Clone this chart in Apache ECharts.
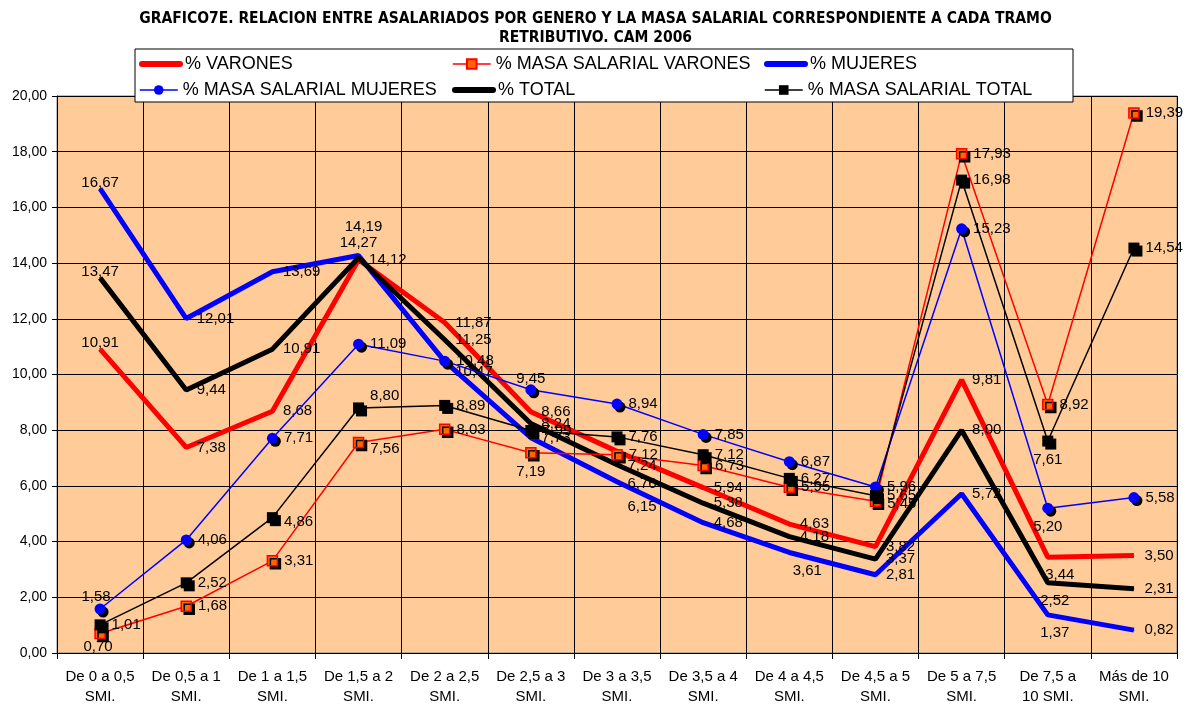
<!DOCTYPE html>
<html><head><meta charset="utf-8">
<script src="https://cdn.jsdelivr.net/npm/echarts@6/dist/echarts.min.js"></script>
<style>html,body{margin:0;padding:0;background:#fff}#c{width:1191px;height:707px}</style>
</head><body><div id="c"></div>
<script>
const categories = ['De 0 a 0,5\nSMI.','De 0,5 a 1\nSMI.','De 1 a 1,5\nSMI.','De 1,5 a 2\nSMI.','De 2 a 2,5\nSMI.','De 2,5 a 3\nSMI.','De 3 a 3,5\nSMI.','De 3,5 a 4\nSMI.','De 4 a 4,5\nSMI.','De 4,5 a 5\nSMI.','De 5 a 7,5\nSMI.','De 7,5 a\n10 SMI.','Más de 10\nSMI.'];
const varones        = [10.91, 7.38, 8.68, 14.12, 11.87, 8.66, 7.24, 5.94, 4.63, 3.82, 9.81, 3.44, 3.50];
const masaVarones    = [0.70, 1.68, 3.31, 7.56, 8.03, 7.19, 7.12, 6.73, 5.95, 5.45, 17.93, 8.92, 19.39];
const mujeres        = [16.67, 12.01, 13.69, 14.27, 10.47, 7.73, 6.15, 4.68, 3.61, 2.81, 5.72, 1.37, 0.82];
const masaMujeres    = [1.58, 4.06, 7.71, 11.09, 10.48, 9.45, 8.94, 7.85, 6.87, 5.96, 15.23, 5.20, 5.58];
const total          = [13.47, 9.44, 10.91, 14.19, 11.25, 8.24, 6.76, 5.38, 4.18, 3.37, 8.00, 2.52, 2.31];
const masaTotal      = [1.01, 2.52, 4.86, 8.80, 8.89, 7.99, 7.76, 7.12, 6.27, 5.65, 16.98, 7.61, 14.54];
const yTicks = [0, 2, 4, 6, 8, 10, 12, 14, 16, 18, 20];

// label placement (style only): [position, dx, dy]
const R = ['right',0,0], T = ['top',0,12], B = ['bottom',0,0];
const labVarones     = [T, R, R, R, R, R, ['right',0,14], R, R, R, R, ['bottom',12,0], R];
const labMujeres     = [T, R, R, ['top',0,5], ['right',0,10], R, ['right',0,25], R, ['bottom',18,0], R, R, ['bottom',7,0], R];
const labTotal       = [T, R, R, ['top',5,-13], R, R, ['right',0,19], R, R, R, R, ['bottom',7,0], R];
const labMasaVarones = [['bottom',-2,-6], R, R, ['right',0,6], R, B, R, R, R, ['right',0,3], R, R, R];
const labMasaMujeres = [['top',-4,7], R, R, R, R, ['top',0,8], R, R, R, R, R, ['bottom',0,0], R];
const labMasaTotal   = [R, R, ['right',0,4], ['right',0,-12], R, R, R, R, R, R, R, B, R];

const fmt = v => v.toFixed(2).replace('.', ',');
function build(vals, labs){
  return vals.map((v,i)=>({value:v, label:{position:labs[i][0], offset:[labs[i][1],labs[i][2]]}}));
}
const labelBase = {show:true, color:'#000', fontSize:15, fontFamily:'Liberation Sans, Arial, sans-serif', formatter:p=>fmt(p.value)};
const shadow = {shadowColor:'#000', shadowBlur:0, shadowOffsetX:3, shadowOffsetY:3};

const chart = echarts.init(document.getElementById('c'), null, {renderer:'canvas'});
const legendFont = {fontSize:18, color:'#000', fontFamily:'Liberation Sans, Arial, sans-serif'};
function lg(name, left, top, thick){
  const o = {data:[name], left:left, top:top, itemWidth:38, itemHeight:12, padding:0, itemGap:0, textStyle:legendFont, z:20, selectedMode:false};
  if (thick) { o.itemStyle = {opacity:0}; o.lineStyle = {width:6, cap:'round'}; }
  else { o.lineStyle = {width:1.5}; }
  return o;
}
chart.setOption({
  animation:false,
  backgroundColor:'#fff',
  title:{text:'GRAFICO7E. RELACION ENTRE ASALARIADOS POR GENERO Y LA MASA SALARIAL CORRESPONDIENTE A CADA TRAMO\nRETRIBUTIVO. CAM 2006',
    left:'center', top:4,
    textStyle:{fontSize:15.5, fontWeight:'bold', lineHeight:19, color:'#000', align:'center', fontFamily:'Liberation Sans Narrow, DejaVu Sans Condensed, Arial Narrow, sans-serif'}},
  graphic:[{type:'rect', shape:{x:135, y:49, width:938, height:53}, style:{fill:'#fff', stroke:'#000', lineWidth:1}, z:15}],
  legend:[
    lg('% VARONES', 139, 55, true), lg('% MASA SALARIAL VARONES', 452, 55, false), lg('% MUJERES', 764, 55, true),
    lg('% MASA SALARIAL MUJERES', 139, 81, false), lg('% TOTAL', 452, 81, true), lg('% MASA SALARIAL TOTAL', 764, 81, false)
  ],
  grid:{left:57, right:14, top:96, bottom:52, show:true, backgroundColor:'#FFCC99', borderColor:'#808080', borderWidth:1},
  xAxis:{type:'category', data:categories, boundaryGap:true,
    axisLine:{lineStyle:{color:'#000', width:1}},
    axisTick:{show:true, length:6, lineStyle:{color:'#000'}},
    splitLine:{show:true, lineStyle:{color:'#000', width:1}},
    axisLabel:{fontSize:15, color:'#000', lineHeight:20, margin:14, interval:0, fontFamily:'Liberation Sans, Arial, sans-serif'}},
  yAxis:{type:'value', min:yTicks[0], max:yTicks[yTicks.length-1], interval:2,
    axisLine:{show:true, lineStyle:{color:'#000'}},
    axisTick:{show:true, length:5, lineStyle:{color:'#000'}},
    splitLine:{show:true, lineStyle:{color:'#000', width:1}},
    axisLabel:{fontSize:14, color:'#000', margin:10, formatter:v=>fmt(v), fontFamily:'Liberation Sans, Arial, sans-serif'}},
  series:[
    {name:'% VARONES', type:'line', data:build(varones, labVarones), symbol:'circle', symbolSize:1, lineStyle:{color:'#FF0000', width:5}, itemStyle:{color:'#FF0000'}, label:Object.assign({distance:10}, labelBase), z:2},
    {name:'% MASA SALARIAL VARONES', type:'line', data:build(masaVarones, labMasaVarones), symbol:'rect', symbolSize:10, lineStyle:{color:'#FF0000', width:1.5}, itemStyle:Object.assign({color:'#FF6600', borderColor:'#FF0000', borderWidth:1.5}, shadow), label:Object.assign({distance:6}, labelBase), z:3},
    {name:'% MUJERES', type:'line', data:build(mujeres, labMujeres), symbol:'circle', symbolSize:1, lineStyle:{color:'#0000FF', width:5}, itemStyle:{color:'#0000FF'}, label:Object.assign({distance:10}, labelBase), z:2},
    {name:'% MASA SALARIAL MUJERES', type:'line', data:build(masaMujeres, labMasaMujeres), symbol:'circle', symbolSize:11, lineStyle:{color:'#0000FF', width:1.5}, itemStyle:Object.assign({color:'#0000FF', borderColor:'#0000FF', borderWidth:0}, shadow), label:Object.assign({distance:6}, labelBase), z:3},
    {name:'% TOTAL', type:'line', data:build(total, labTotal), symbol:'circle', symbolSize:1, lineStyle:{color:'#000000', width:5}, itemStyle:{color:'#000000'}, label:Object.assign({distance:10}, labelBase), z:2},
    {name:'% MASA SALARIAL TOTAL', type:'line', data:build(masaTotal, labMasaTotal), symbol:'rect', symbolSize:11, lineStyle:{color:'#000000', width:1.5}, itemStyle:Object.assign({color:'#000000', borderWidth:0}, shadow), label:Object.assign({distance:6}, labelBase), z:3}
  ]
});
</script></body></html>
